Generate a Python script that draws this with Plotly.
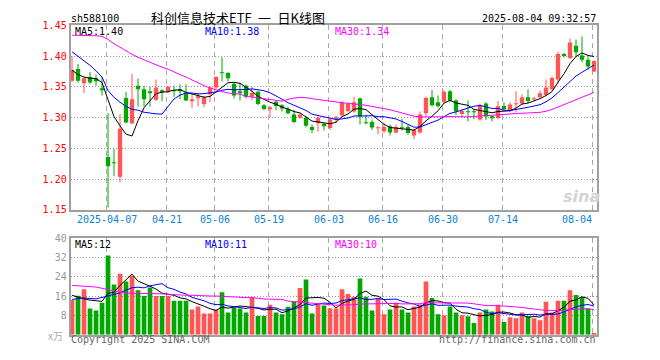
import plotly.graph_objects as go

# ---------------- data ----------------
tick_idx = [6, 16, 24, 33, 43, 52, 62, 72, 87]
tick_text = ["2025-04-07", "04-21", "05-06", "05-19", "06-03", "06-16", "06-30", "07-14", "08-04"]

open_ = [1.360, 1.379, 1.356, 1.366, 1.364, 1.347, 1.236, 1.227, 1.204, 1.332,
         1.291, 1.352, 1.346, 1.341, 1.329, 1.344, 1.343, 1.344, 1.345, 1.341,
         1.328, 1.332, 1.322, 1.338, 1.349, 1.373, 1.373, 1.355, 1.342, 1.352,
         1.334, 1.342, 1.320, 1.314, 1.326, 1.320, 1.314, 1.305, 1.300, 1.300,
         1.285, 1.291, 1.290, 1.283, 1.298, 1.304, 1.311, 1.310, 1.331, 1.292,
         1.293, 1.283, 1.278, 1.286, 1.276, 1.284, 1.285, 1.271, 1.276, 1.307,
         1.333, 1.325, 1.326, 1.343, 1.328, 1.306, 1.310, 1.310, 1.297, 1.323,
         1.301, 1.2995, 1.319, 1.3125, 1.322, 1.323, 1.3333, 1.330, 1.3333, 1.337,
         1.3463, 1.362, 1.4036, 1.397, 1.4167, 1.401, 1.394, 1.375]
high = [1.400, 1.387, 1.366, 1.374, 1.370, 1.366, 1.307, 1.249, 1.306, 1.342,
        1.371, 1.3635, 1.352, 1.350, 1.362, 1.346, 1.352, 1.352, 1.354, 1.354,
        1.339, 1.340, 1.335, 1.351, 1.368, 1.398, 1.373, 1.357, 1.357, 1.354,
        1.350, 1.344, 1.322, 1.319, 1.327, 1.322, 1.318, 1.313, 1.307, 1.303,
        1.289, 1.302, 1.292, 1.300, 1.303, 1.327, 1.325, 1.334, 1.333, 1.305,
        1.297, 1.286, 1.292, 1.289, 1.289, 1.298, 1.289, 1.282, 1.310, 1.334,
        1.345, 1.336, 1.345, 1.345, 1.330, 1.314, 1.328, 1.314, 1.323, 1.325,
        1.304, 1.327, 1.325, 1.325, 1.343, 1.338, 1.346, 1.334, 1.344, 1.362,
        1.367, 1.407, 1.405, 1.4287, 1.427, 1.432, 1.3995, 1.393]
low = [1.358, 1.357, 1.340, 1.355, 1.352, 1.336, 1.154, 1.205, 1.195, 1.291,
       1.289, 1.318, 1.318, 1.318, 1.327, 1.327, 1.340, 1.334, 1.330, 1.327,
       1.316, 1.318, 1.317, 1.325, 1.347, 1.359, 1.359, 1.331, 1.328, 1.331,
       1.328, 1.320, 1.312, 1.301, 1.312, 1.310, 1.305, 1.291, 1.298, 1.284,
       1.275, 1.277, 1.279, 1.280, 1.291, 1.302, 1.309, 1.308, 1.289, 1.289,
       1.280, 1.273, 1.275, 1.271, 1.274, 1.279, 1.272, 1.265, 1.274, 1.302,
       1.318, 1.316, 1.323, 1.325, 1.304, 1.300, 1.294, 1.298, 1.295, 1.296,
       1.294, 1.297, 1.312, 1.309, 1.309, 1.321, 1.323, 1.327, 1.332, 1.335,
       1.344, 1.355, 1.398, 1.395, 1.399, 1.390, 1.3776, 1.374]
close = [1.378, 1.360, 1.364, 1.357, 1.359, 1.345, 1.221, 1.226, 1.282, 1.292,
         1.330, 1.346, 1.330, 1.340, 1.349, 1.342, 1.350, 1.343, 1.343, 1.328,
         1.329, 1.333, 1.333, 1.349, 1.366, 1.372, 1.364, 1.336, 1.341, 1.334,
         1.340, 1.322, 1.314, 1.315, 1.319, 1.315, 1.307, 1.293, 1.305, 1.287,
         1.280, 1.300, 1.286, 1.297, 1.300, 1.325, 1.322, 1.325, 1.302, 1.291,
         1.284, 1.284, 1.285, 1.276, 1.285, 1.283, 1.275, 1.280, 1.305, 1.332,
         1.320, 1.319, 1.342, 1.328, 1.310, 1.311, 1.309, 1.309, 1.320, 1.302,
         1.300, 1.3187, 1.314, 1.3213, 1.323, 1.3333, 1.327, 1.331, 1.3396, 1.349,
         1.3646, 1.4036, 1.400, 1.4219, 1.4063, 1.394, 1.383, 1.392]
# volume in 万 (10k) lots
volume = [14.5, 16.1, 18.8, 10.8, 10.0, 13.2, 32.8, 20.8, 25.2, 22.0,
          24.4, 18.4, 16.0, 19.5, 16.0, 16.0, 16.0, 14.0, 14.0, 14.0,
          10.4, 11.7, 8.8, 8.8, 10.4, 17.6, 9.2, 11.3, 10.8, 9.2,
          15.6, 7.7, 7.7, 12.4, 9.2, 8.4, 11.6, 13.7, 19.3, 22.8,
          8.8, 12.4, 12.1, 10.9, 10.8, 18.8, 16.8, 15.7, 23.2, 15.7,
          10.0, 15.1, 8.4, 10.4, 13.2, 10.4, 9.2, 11.7, 12.5, 22.0,
          15.2, 8.4, 8.0, 11.7, 9.2, 8.0, 7.6, 4.8, 9.2, 10.4,
          9.6, 12.4, 5.2, 7.2, 6.8, 9.2, 7.6, 6.8, 6.0, 13.6,
          9.2, 14.0, 14.0, 18.4, 16.4, 15.6, 10.8, 0.4]

# moving-average values at the left edge (history before the window)
ma5_head = [1.377, 1.370, 1.366, 1.364]
ma10_head = [1.407, 1.400, 1.393, 1.385, 1.376, 1.366, 1.344, 1.333, 1.325]
ma30_head = [1.434, 1.434, 1.434, 1.434, 1.433, 1.432, 1.427, 1.420, 1.414, 1.408,
             1.403, 1.398, 1.394, 1.390, 1.385, 1.382, 1.379, 1.374, 1.370, 1.366,
             1.361, 1.356, 1.352, 1.348, 1.345, 1.343, 1.340, 1.339, 1.338]
vma5_head = [16.3, 15.4, 14.8, 14.3]
vma10_head = [14.6, 14.9, 15.2, 15.0, 14.8, 15.4, 16.0, 16.5, 17.3]
vma30_head = [20.4, 20.3, 20.1, 19.9, 19.7, 19.2, 18.8, 18.1, 17.5, 17.2,
              17.1, 17.1, 17.1, 17.1, 17.1, 16.9, 16.7, 16.5, 16.4, 16.3,
              16.3, 16.1, 16.1, 16.0, 16.0, 15.9, 15.7, 15.6, 15.5]

price_ticks = [1.15, 1.20, 1.25, 1.30, 1.35, 1.40, 1.45]
vol_ticks = [8, 16, 24, 32, 40]
price_legend = ["MA5:1.40", "MA10:1.38", "MA30:1.34"]
vol_legend = ["MA5:12", "MA10:11", "MA30:10"]

# ---------------- helpers ----------------
W, H = 660, 360
X0, X1 = 70.7, 597.3
PY0, PY1 = 20, 211
VY0, VY1 = 240, 340
XR = [-0.22, 87.55]
RED = "#FF5555"
GREEN = "#00A800"
MONO = "DejaVu Sans Mono"


def fx(x):
    return x / W


def fy(y):
    return 1 - y / H


def moving_avg(vals, n, head):
    out = list(head)
    for i in range(len(head), len(vals)):
        out.append(sum(vals[i - n + 1:i + 1]) / n)
    return out


n = len(close)
xs = list(range(n))
up = [c >= o for o, c in zip(open_, close)]
colors = [RED if u else GREEN for u in up]

fig = go.Figure()

# wicks
for flag, col in ((True, RED), (False, GREEN)):
    wx, wy = [], []
    for i in xs:
        if up[i] == flag:
            wx += [i, i, None]
            wy += [low[i], high[i], None]
    fig.add_trace(go.Scatter(x=wx, y=wy, mode="lines", line=dict(color=col, width=1),
                             hoverinfo="skip", xaxis="x", yaxis="y"))

# bodies
base = [min(o, c) for o, c in zip(open_, close)]
height = [max(abs(c - o), 0.0012) for o, c in zip(open_, close)]
fig.add_trace(go.Bar(x=xs, y=height, base=base, width=0.72,
                     marker=dict(color=colors, line=dict(width=0)),
                     xaxis="x", yaxis="y", hoverinfo="skip"))

ma_cols = ["#000000", "#0000FF", "#FF00FF"]
for (nn, head), col in zip(((5, ma5_head), (10, ma10_head), (30, ma30_head)), ma_cols):
    fig.add_trace(go.Scatter(x=xs, y=moving_avg(close, nn, head), mode="lines",
                             line=dict(color=col, width=1), xaxis="x", yaxis="y",
                             hoverinfo="skip"))

# volume
fig.add_trace(go.Bar(x=xs, y=volume, width=0.78, marker=dict(color=colors, line=dict(width=0)),
                     xaxis="x2", yaxis="y2", hoverinfo="skip"))
for (nn, head), col in zip(((5, vma5_head), (10, vma10_head), (30, vma30_head)), ma_cols):
    fig.add_trace(go.Scatter(x=xs, y=moving_avg(volume, nn, head), mode="lines",
                             line=dict(color=col, width=1), xaxis="x2", yaxis="y2",
                             hoverinfo="skip"))

grid_x = [t - 0.22 for t in tick_idx]
xcommon = dict(range=XR, domain=[fx(X0), fx(X1)], showticklabels=False, ticks="",
               tickvals=grid_x, showgrid=True, gridcolor="#AAAAAA", griddash="5px,4px",
               gridwidth=1, showline=True, mirror=True, linecolor="#A0A0A0", linewidth=2,
               zeroline=False, fixedrange=True)

fig.update_layout(
    width=W, height=H, margin=dict(l=0, r=0, t=0, b=0),
    paper_bgcolor="white", plot_bgcolor="white", showlegend=False,
    barmode="overlay",
    xaxis=dict(anchor="y", **xcommon),
    xaxis2=dict(anchor="y2", **xcommon),
    yaxis=dict(domain=[fy(PY1), fy(PY0)], range=[1.15, 1.45], anchor="x",
               tickvals=price_ticks, ticktext=["%.2f" % v for v in price_ticks],
               tickfont=dict(family=MONO, size=10, color="#FF0000"), ticks="",
               showgrid=True, gridcolor="#999999", griddash="1px,2px", gridwidth=1,
               showline=True, mirror=True, linecolor="#A0A0A0", linewidth=2,
               zeroline=False, fixedrange=True),
    yaxis2=dict(domain=[fy(VY1), fy(VY0)], range=[0, 40], anchor="x2",
                tickvals=vol_ticks, ticktext=[str(v) for v in vol_ticks],
                tickfont=dict(family=MONO, size=10, color="#999999"), ticks="",
                showgrid=True, gridcolor="#999999", griddash="1px,2px", gridwidth=1,
                showline=True, mirror=True, linecolor="#A0A0A0", linewidth=2,
                zeroline=False, fixedrange=True),
)

ann = []


def text(x, y, s, color="#000000", anchor="left", size=10, family=MONO, **kw):
    ann.append(dict(x=fx(x), y=fy(y), xref="paper", yref="paper", text=s, showarrow=False,
                    xanchor=anchor, yanchor="middle", font=dict(family=family, size=size, color=color),
                    borderpad=0, **kw))


text(70, 12.5, "sh588100")
text(237.5, 12, "科创信息技术ETF\u2002一\u2002日K线图", anchor="center", size=13,
     family="Noto Sans CJK SC")
text(597, 12.5, "2025-08-04 09:32:57", anchor="right")
for s, x, col in zip(price_legend, (74, 204, 334), ma_cols):
    text(x, 26.5, s, color=col)
for s, x, col in zip(vol_legend, (74, 204, 334), ma_cols):
    text(x, 247, s, color=col)
for t, s in zip(tick_idx, tick_text):
    px = X0 + (t - 0.22 - XR[0]) / (XR[1] - XR[0]) * (X1 - X0)
    if t == tick_idx[-1]:
        text(px, 221, s, color="#0A82D8", anchor="right")
    else:
        text(px, 221, s, color="#0A82D8", anchor="center")
text(64, 341, "x万", color="#AAAAAA", anchor="right", size=10, family="Noto Sans CJK SC")
text(70, 345.5, "Copyright 2025 SINA.COM", color="#666666")
text(597, 345.5, "http://finance.sina.com.cn", color="#666666", anchor="right")
text(581, 197, "<b><i>sina</i></b>", color="#D4D4D4", anchor="center", size=16, family="DejaVu Sans")
fig.update_layout(annotations=ann)

fig.write_html("out.html", config={"displayModeBar": False},
               post_script="document.body.style.margin='0';document.body.style.overflow='hidden';")
